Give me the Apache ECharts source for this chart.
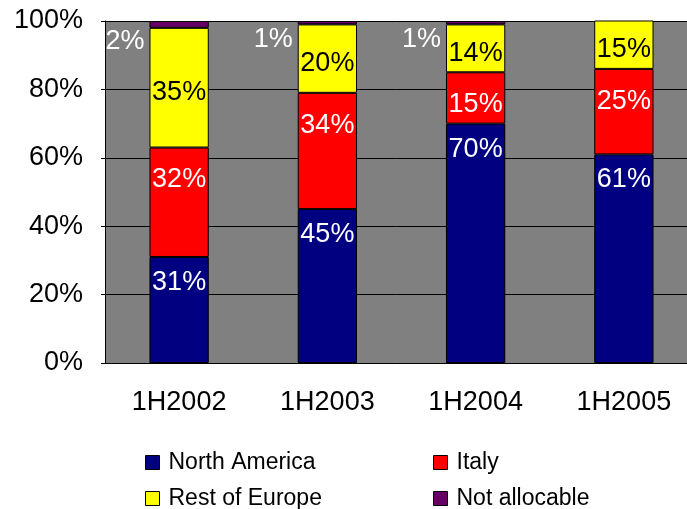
<!DOCTYPE html>
<html>
<head>
<meta charset="utf-8">
<script src="https://cdn.jsdelivr.net/npm/echarts@6/dist/echarts.min.js"></script>
<style>
  html, body { margin: 0; padding: 0; background: #fff; }
  #chart { width: 687px; height: 509px; }
</style>
</head>
<body>
<div id="chart"></div>
<script>
// values in percent
const periods = ['1H2002', '1H2003', '1H2004', '1H2005']
const northAmerica = [31, 45, 70, 61]
const italy = [32, 34, 15, 25]
const restOfEurope = [35, 20, 14, 15]
const notAllocable = [2, 1, 1, 0]

const font = 'Liberation Sans, Arial, sans-serif'

const pct = p => (p.value ? p.value + '%' : '')

const bar = (name, data, color, label) => ({
    name: name,
    type: 'bar',
    stack: 'total',
    barWidth: '40%',
    data: data,
    itemStyle: {
        color: color,
        borderColor: '#000',
        borderWidth: 1
    },
    label: Object.assign({
        show: true,
        formatter: pct,
        fontFamily: font,
        fontSize: 27,
        color: '#fff'
    }, label)
})

// one legend per entry so they sit in a 2x2 block
const legendItem = (name, left, top) => ({
    data: [name],
    left: left,
    top: top,
    itemWidth: 14,
    itemHeight: 14,
    icon: 'rect',
    itemStyle: { borderColor: '#000', borderWidth: 1 },
    textStyle: { fontFamily: font, fontSize: 23, color: '#000', padding: [0, 0, 0, 4] }
})

let Charts = echarts.init(document.getElementById('chart'))
Charts.setOption({
    animation: false,
    textStyle: { fontFamily: font },
    grid: {
        left: 105,
        top: 21,
        width: 593,
        bottom: 146,
        outerBoundsMode: 'none',
        show: true,
        backgroundColor: '#808080',
        borderWidth: 0
    },
    legend: [
        legendItem('North America', 140, 446),
        legendItem('Italy', 428, 446),
        legendItem('Rest of Europe', 140, 482),
        legendItem('Not allocable', 428, 482)
    ],
    xAxis: {
        type: 'category',
        data: periods,
        axisTick: { show: false },
        axisLine: { lineStyle: { color: '#000', width: 1 } },
        axisLabel: { color: '#000', fontSize: 27, fontFamily: font, margin: 26 }
    },
    yAxis: {
        type: 'value',
        min: 0,
        max: 100,
        interval: 20,
        axisLine: { show: true, lineStyle: { color: '#000', width: 1 } },
        axisTick: { show: true, length: 4, lineStyle: { color: '#000' } },
        axisLabel: { color: '#000', fontSize: 27, fontFamily: font, margin: 22, formatter: '{value}%' },
        splitLine: { lineStyle: { color: '#000', width: 1 } }
    },
    series: [
        bar('North America', northAmerica, '#000080', { position: 'insideTop', distance: 12 }),
        bar('Italy', italy, '#ff0000', { position: 'insideTop', distance: 19 }),
        bar('Rest of Europe', restOfEurope, '#ffff00', { position: 'inside', color: '#000', offset: [0, 5] }),
        bar('Not allocable', notAllocable, '#660066', { position: 'left', distance: 5, offset: [0, 17] })
    ]
})
</script>
</body>
</html>
